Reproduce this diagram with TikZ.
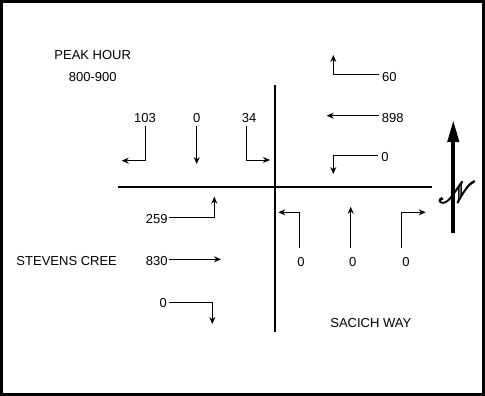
\documentclass[tikz,border=0pt]{standalone}
\usepackage{fontspec}
\setmainfont{Liberation Sans}
\usepackage{mathrsfs}
\usetikzlibrary{arrows.meta}
\newcommand{\outlinedN}{\special{pdf:literal direct 0.6 g 0 G 2 Tr 0.4 w}$\mathscr{N}$\special{pdf:literal direct 0 Tr 0 g}}
\begin{document}
\begin{tikzpicture}[x=1pt,y=-1pt,
  lbl/.style={inner sep=0pt,font=\fontsize{13}{15}\selectfont},
  mv/.style={line width=0.9pt,-{Stealth[length=7pt,width=6pt]}},
  road/.style={line width=2pt},
  frame/.style={line width=3pt}]
\useasboundingbox (0,0) rectangle (485,396);
\draw[frame] (1.5,1.5) rectangle (483.5,394.5);
% titles
\node[lbl] (peak) at (92.7,55) {PEAK HOUR};
\node[lbl] (time) at (92.8,77) {800-900};
\node[lbl] (stev) at (66.7,261) {STEVENS CREE};
\node[lbl] (sac) at (370.8,322.7) {SACICH WAY};
% roads
\coordinate (vt) at (275,85);
\coordinate (vb) at (275,331.7);
\coordinate (hl) at (118,186.7);
\coordinate (hr) at (431.7,186.7);
\draw[road] (vt) -- (vb);
\draw[road] (hl) -- (hr);
% southbound approach
\node[lbl] (s103) at (145,117.7) {103};
\node[lbl] (s0) at (196.7,117.7) {0};
\node[lbl] (s34) at (249.2,117.7) {34};
\coordinate (e103) at (121.7,160.7);
\coordinate (e0) at (196.7,164);
\coordinate (e34) at (270,160);
\draw[mv] ([yshift=-3pt]s103.south) coordinate (b103) -- (b103 |- e103) -- (e103);
\draw[mv] ([yshift=-3pt]s0.south) -- (e0);
\draw[mv] ([xshift=-2.5pt,yshift=-3pt]s34.south) coordinate (b34) -- (b34 |- e34) -- (e34);
% westbound approach
\node[lbl] (w60) at (389.3,76.7) {60};
\node[lbl] (w898) at (392.7,117.7) {898};
\node[lbl] (w0) at (385,157.3) {0};
\coordinate (c60) at (333.3,74);
\coordinate (e60) at (333.3,55);
\coordinate (e898) at (326.7,115.7);
\coordinate (c0w) at (333.3,155.7);
\coordinate (e0w) at (333.3,174);
\draw[mv] ([xshift=-3pt]c60 -| w60.west) -- (c60) -- (e60);
\draw[mv] ([xshift=-3pt]e898 -| w898.west) -- (e898);
\draw[mv] ([xshift=-3pt]c0w -| w0.west) -- (c0w) -- (e0w);
% eastbound approach
\node[lbl] (e259) at (156.7,219) {259};
\node[lbl] (e830) at (156.7,261) {830};
\node[lbl] (e0e) at (163.3,302.7) {0};
\coordinate (c259) at (214.3,217.3);
\coordinate (t259) at (214.3,196.7);
\coordinate (t830) at (221,259.3);
\coordinate (c0e) at (212.3,302.3);
\coordinate (t0e) at (212.3,324);
\draw[mv] ([xshift=1.5pt]c259 -| e259.east) -- (c259) -- (t259);
\draw[mv] ([xshift=1.5pt]t830 -| e830.east) -- (t830);
\draw[mv] ([xshift=1.5pt]c0e -| e0e.east) -- (c0e) -- (t0e);
% northbound approach
\node[lbl] (n1) at (301,261.7) {0};
\node[lbl] (n2) at (352.7,261.7) {0};
\node[lbl] (n3) at (406,261.7) {0};
\coordinate (b1) at (299,248.3);
\coordinate (c1) at (299,212.3);
\coordinate (t1) at (278.3,212.3);
\coordinate (b2) at (350.7,248.3);
\coordinate (t2) at (350.7,206.7);
\coordinate (b3) at (401.7,248.3);
\coordinate (c3) at (401.7,212.3);
\coordinate (t3) at (425.7,212.3);
\draw[mv] (b1) -- (c1) -- (t1);
\draw[mv] (b2) -- (t2);
\draw[mv] (b3) -- (c3) -- (t3);
% north arrow
\coordinate (nb) at (453.3,233.3);
\coordinate (nt) at (453.3,120);
\draw[line width=4pt,-{Triangle[length=22pt,width=11pt]}] (nb) -- (nt);
\node[inner sep=0pt] (north) at (457,192) {\scalebox{3.0}{\outlinedN}};
\end{tikzpicture}
\end{document}
